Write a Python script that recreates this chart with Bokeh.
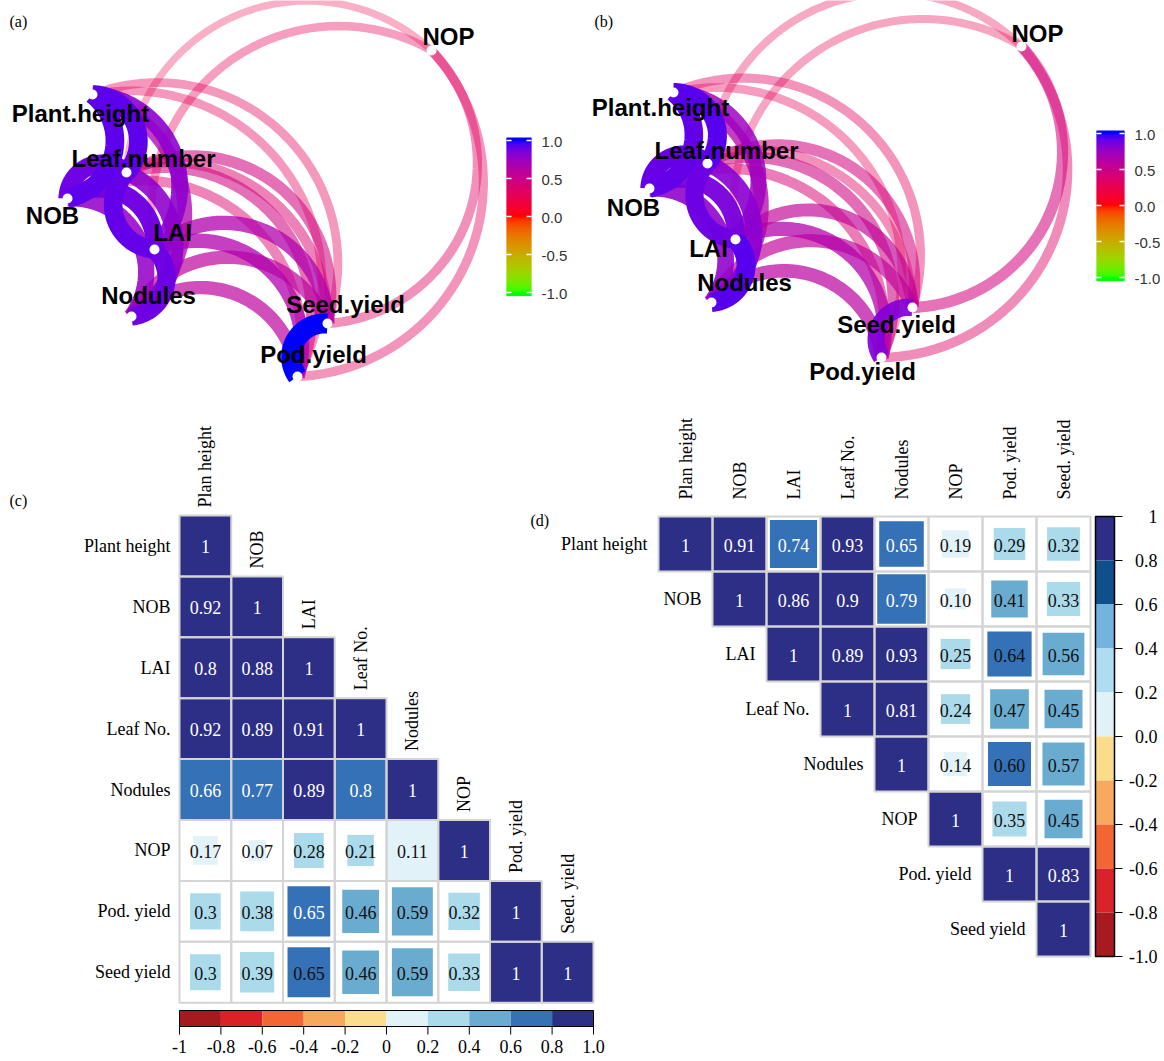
import math
from bokeh.plotting import figure
from bokeh.models import Range1d
from bokeh.core.properties import value
from bokeh.embed import file_html
from bokeh.resources import INLINE

# ---------------- data ----------------
VARIABLES = ["Plant height", "NOB", "LAI", "Leaf No.", "Nodules", "NOP", "Pod. yield", "Seed yield"]
COLUMN_LABELS = ["Plan height", "NOB", "LAI", "Leaf No.", "Nodules", "NOP", "Pod. yield", "Seed. yield"]
NETWORK_LABELS = ["Plant.height", "NOB", "LAI", "Leaf.number", "Nodules", "NOP", "Pod.yield", "Seed.yield"]

# panel (c): lower triangle, row i holds columns 0..i
C_LOWER = [
    [1],
    [0.92, 1],
    [0.8, 0.88, 1],
    [0.92, 0.89, 0.91, 1],
    [0.66, 0.77, 0.89, 0.796, 1],
    [0.17, 0.07, 0.28, 0.21, 0.11, 1],
    [0.3, 0.38, 0.652, 0.46, 0.59, 0.32, 1],
    [0.3, 0.39, 0.648, 0.46, 0.59, 0.33, 1, 1],
]
# panel (d): upper triangle, row i holds columns i..7 (printed as shown)
D_UPPER = [
    ["1", "0.91", "0.74", "0.93", "0.65", "0.19", "0.29", "0.32"],
    ["1", "0.86", "0.9", "0.79", "0.10", "0.41", "0.33"],
    ["1", "0.89", "0.93", "0.25", "0.64", "0.56"],
    ["1", "0.81", "0.24", "0.47", "0.45"],
    ["1", "0.14", "0.60", "0.57"],
    ["1", "0.35", "0.45"],
    ["1", "0.83"],
    ["1"],
]
C_BAR_TICKS = ["-1", "-0.8", "-0.6", "-0.4", "-0.2", "0", "0.2", "0.4", "0.6", "0.8", "1.0"]
D_BAR_TICKS = ["1", "0.8", "0.6", "0.4", "0.2", "0.0", "-0.2", "-0.4", "-0.6", "-0.8", "-1.0"]
NET_TICKS = ["1.0", "0.5", "0.0", "-0.5", "-1.0"]
NET_MIN_COR = 0.2

# ---------------- styles / layout ----------------
CELL_PALETTE = ["#A51A1F", "#DA2128", "#F26634", "#F8A85C", "#FBDE8C",
                "#E1F2F8", "#ABDBEB", "#6AABD0", "#3471B6", "#2D2E86"]
D_BAR_PALETTE = ["#A71A1F", "#D8232A", "#F26633", "#F8A95E", "#FBDC8A",
                 "#E1F1F8", "#AEDCF0", "#72B3E0", "#0F4F8C", "#2D2F86"]
GRID_GRAY = "#D4D4D4"
SERIF = value("Liberation Serif")
SANS = value("Liberation Sans")

# network layouts (node positions and label anchors, page pixel space)
NET_A_POS = [(92, 94), (67, 198), (154, 249), (126, 172), (131, 316), (431, 50), (297, 376), (327, 323)]
NET_A_LAB = [(80, 113), (52, 215), (172, 232), (143, 158), (148, 295), (448, 36), (313, 354), (345, 304)]
NET_B_POS = [(673, 92), (649, 188), (735, 239), (707, 163), (711, 302), (1021, 46), (881, 357), (912, 307)]
NET_B_LAB = [(660, 107), (633, 207), (708, 248), (726, 150), (744, 282), (1037, 33), (862, 371), (896, 324)]
SAGITTA = 0.32

W, H = 1160, 1060
p = figure(width=W, height=H, x_range=Range1d(0, W), y_range=Range1d(H, 0),
           output_backend="svg", toolbar_location=None, min_border=0,
           x_axis_location=None, y_axis_location=None)
p.grid.visible = False
p.outline_line_color = None
p.background_fill_color = "white"
p.border_fill_color = "white"


# ---------- colour helpers (Lab interpolation as ggplot does) ----------
def _hex(h):
    h = h.lstrip("#")
    return [int(h[k:k + 2], 16) / 255 for k in (0, 2, 4)]


def _to_lab(h):
    rgb = [c / 12.92 if c <= 0.04045 else ((c + 0.055) / 1.055) ** 2.4 for c in _hex(h)]
    X = (0.4124 * rgb[0] + 0.3576 * rgb[1] + 0.1805 * rgb[2]) / 0.95047
    Y = (0.2126 * rgb[0] + 0.7152 * rgb[1] + 0.0722 * rgb[2])
    Z = (0.0193 * rgb[0] + 0.1192 * rgb[1] + 0.9505 * rgb[2]) / 1.08883
    f = lambda t: t ** (1 / 3) if t > (6 / 29) ** 3 else t / (3 * (6 / 29) ** 2) + 4 / 29
    return (116 * f(Y) - 16, 500 * (f(X) - f(Y)), 200 * (f(Y) - f(Z)))


def _from_lab(L, a, b):
    fy = (L + 16) / 116
    fx = fy + a / 500
    fz = fy - b / 200
    finv = lambda t: t ** 3 if t > 6 / 29 else 3 * (6 / 29) ** 2 * (t - 4 / 29)
    X, Y, Z = finv(fx) * 0.95047, finv(fy), finv(fz) * 1.08883
    lin = [3.2406 * X - 1.5372 * Y - 0.4986 * Z,
           -0.9689 * X + 1.8758 * Y + 0.0415 * Z,
           0.0557 * X - 0.2040 * Y + 1.0570 * Z]
    out = []
    for c in lin:
        c = max(0.0, min(1.0, c))
        c = 12.92 * c if c <= 0.0031308 else 1.055 * c ** (1 / 2.4) - 0.055
        out.append(int(round(max(0, min(1, c)) * 255)))
    return "#%02x%02x%02x" % tuple(out)


LAB_G, LAB_R, LAB_B = _to_lab("#00FF00"), _to_lab("#FF0000"), _to_lab("#0000FF")


def net_color(r):
    if r >= 0:
        a, b, t = LAB_R, LAB_B, r
    else:
        a, b, t = LAB_G, LAB_R, r + 1
    return _from_lab(*[a[k] + (b[k] - a[k]) * t for k in range(3)])


def bin_index(r):
    return max(0, min(9, int(math.floor((r + 1) / 0.2 + 1e-9))))


# ---------------- network panels (a) and (b) ----------------
def arc_points(P, Q, s, n=48):
    dx, dy = Q[0] - P[0], Q[1] - P[1]
    c = math.hypot(dx, dy)
    ux, uy = dx / c, dy / c
    nx, ny = -uy, ux                      # right-hand side in page space
    h = s * c
    R = (c * c / 4 + h * h) / (2 * h)
    mx, my = (P[0] + Q[0]) / 2, (P[1] + Q[1]) / 2
    cx, cy = mx + nx * (h - R), my + ny * (h - R)
    a0 = math.atan2(P[1] - cy, P[0] - cx)
    a1 = math.atan2(Q[1] - cy, Q[0] - cx)
    d = (a1 - a0 + math.pi) % (2 * math.pi) - math.pi
    xs = [cx + R * math.cos(a0 + d * k / n) for k in range(n + 1)]
    ys = [cy + R * math.sin(a0 + d * k / n) for k in range(n + 1)]
    return xs, ys


def draw_network(mat, pos, lab, bar_x0, bar_x1, bar_c, bar_h):
    nv = len(VARIABLES)
    edges = []
    for i in range(nv):
        for j in range(i + 1, nv):
            r = mat[i][j]
            if abs(r) >= NET_MIN_COR:
                edges.append((abs(r), j, i, r))
    edges.sort()
    xs, ys, cols, als, wds = [], [], [], [], []
    for _, a, b, r in edges:
        ex, ey = arc_points(pos[a], pos[b], SAGITTA)
        xs.append(ex)
        ys.append(ey)
        cols.append(net_color(r))
        als.append(min(1.0, 0.1 + abs(r)))
        wds.append(4 + 16 * abs(r))
    p.multi_line(xs, ys, line_color=cols, line_alpha=als, line_width=wds, line_cap="butt")
    p.scatter([q[0] for q in pos], [q[1] for q in pos], size=10, fill_color="white", line_color=None)
    p.text([q[0] for q in lab], [q[1] for q in lab], text=NETWORK_LABELS, text_font=SANS,
           text_font_style="bold", text_font_size="24px", text_align="center",
           text_baseline="middle", text_color="black")
    # gradient colour bar, one pixel row per slice
    top = int(round(bar_c - 1.04 * bar_h))
    bot = int(round(bar_c + 1.04 * bar_h))
    rows = list(range(top, bot))
    p.quad(left=bar_x0, right=bar_x1, top=rows, bottom=[y + 1.6 for y in rows],
           fill_color=[net_color(max(-1, min(1, (bar_c - (y + 0.5)) / bar_h))) for y in rows],
           line_color=None)
    tick_vals = [float(t) for t in NET_TICKS]
    ty = [bar_c - v * bar_h for v in tick_vals]
    p.segment(x0=[bar_x0] * 5, x1=[bar_x0 + 5] * 5, y0=ty, y1=ty, line_color="white", line_width=1.5)
    p.segment(x0=[bar_x1 - 5] * 5, x1=[bar_x1] * 5, y0=ty, y1=ty, line_color="white", line_width=1.5)
    p.text([bar_x1 + 10] * 5, [t + 1 for t in ty], text=NET_TICKS, text_font=SANS,
           text_font_size="15px", text_align="left", text_baseline="middle", text_color="#333333")


def full_matrix_c():
    n = len(VARIABLES)
    m = [[0.0] * n for _ in range(n)]
    for i, row in enumerate(C_LOWER):
        for j, v in enumerate(row):
            m[i][j] = m[j][i] = float(v)
    return m


def full_matrix_d():
    n = len(VARIABLES)
    m = [[0.0] * n for _ in range(n)]
    for i, row in enumerate(D_UPPER):
        for k, s in enumerate(row):
            j = i + k
            m[i][j] = m[j][i] = float(s)
    return m


draw_network(full_matrix_c(), NET_A_POS, NET_A_LAB, 506, 531, 216, 76)
draw_network(full_matrix_d(), NET_B_POS, NET_B_LAB, 1096, 1124, 205, 72)


# ---------------- correlation matrices (c) and (d) ----------------
def draw_cells(cells, x0, cw, y0, rh, full_at, full_extra, font_size):
    bg_l, bg_r, bg_t, bg_b = [], [], [], []
    fl, fr, ft, fb, fc = [], [], [], [], []
    tx, ty, tt, tc = [], [], [], []
    for (i, j, r, txt) in cells:
        L, Rr = x0 + j * cw, x0 + (j + 1) * cw
        T, B = y0 + i * rh, y0 + (i + 1) * rh
        bg_l.append(L); bg_r.append(Rr); bg_t.append(T); bg_b.append(B)
        cx, cy = (L + Rr) / 2, (T + B) / 2
        if abs(r) >= full_at or (i, j) in full_extra:
            f = 1.0
        else:
            f = 0.1 + 0.9 * math.sqrt(abs(r))
        hw, hh = cw * f / 2, rh * f / 2
        fl.append(cx - hw); fr.append(cx + hw); ft.append(cy - hh); fb.append(cy + hh)
        fc.append(CELL_PALETTE[bin_index(r)])
        tx.append(cx); ty.append(cy + 1); tt.append(txt)
        tc.append("white" if r >= 0.65 else "#111111")
    p.quad(left=bg_l, right=bg_r, top=bg_t, bottom=bg_b, fill_color="white", line_color=None)
    p.quad(left=fl, right=fr, top=ft, bottom=fb, fill_color=fc, line_color=None)
    p.quad(left=bg_l, right=bg_r, top=bg_t, bottom=bg_b, fill_color=None,
           line_color=GRID_GRAY, line_width=2)
    p.text(tx, ty, text=tt, text_font=SERIF, text_font_size=font_size, text_align="center",
           text_baseline="middle", text_color=tc)


# panel (c)
CX0, CCW, CY0, CRH = 179, 51.75, 515, 60.9
cells_c = []
for i, row in enumerate(C_LOWER):
    for j, v in enumerate(row):
        cells_c.append((i, j, float(v), "%g" % round(v, 2)))
draw_cells(cells_c, CX0, CCW, CY0, CRH, 0.66, [(5, 4)], "18px")
p.text([CX0 + (j + 0.5) * CCW for j in range(8)], [CY0 + j * CRH - 8 for j in range(8)],
       text=COLUMN_LABELS, angle=math.pi / 2, text_font=SERIF, text_font_size="18px",
       text_align="left", text_baseline="middle", text_color="black")
p.text([170] * 8, [CY0 + (i + 0.5) * CRH for i in range(8)], text=VARIABLES, text_font=SERIF,
       text_font_size="18px", text_align="right", text_baseline="middle", text_color="black")
# colour bar (c)
CB_T, CB_B = 1010, 1026
edges_c = [CX0 + k * (8 * CCW) / 10 for k in range(11)]
p.quad(left=edges_c[:-1], right=edges_c[1:], top=CB_T, bottom=CB_B, fill_color=CELL_PALETTE, line_color=None)
p.quad(left=edges_c[0], right=edges_c[-1], top=CB_T, bottom=CB_B, fill_color=None, line_color="black", line_width=1)
p.segment(x0=edges_c, x1=edges_c, y0=[CB_B] * 11, y1=[CB_B + 8] * 11, line_color="black", line_width=1)
p.text(edges_c, [1046] * 11, text=C_BAR_TICKS, text_font=SERIF, text_font_size="18px",
       text_align="center", text_baseline="middle", text_color="black")

# panel (d)
DX0, DCW, DY0, DRH = 658, 54, 516, 55
cells_d = []
for i, row in enumerate(D_UPPER):
    for k, s in enumerate(row):
        cells_d.append((i, i + k, float(s), s))
draw_cells(cells_d, DX0, DCW, DY0, DRH, 0.8, [], "18px")
p.text([DX0 + (j + 0.5) * DCW for j in range(8)], [DY0 - 17] * 8,
       text=COLUMN_LABELS, angle=math.pi / 2, text_font=SERIF, text_font_size="18px",
       text_align="left", text_baseline="middle", text_color="black")
p.text([DX0 + i * DCW - 11 for i in range(8)], [DY0 + (i + 0.5) * DRH for i in range(8)],
       text=VARIABLES, text_font=SERIF, text_font_size="18px", text_align="right",
       text_baseline="middle", text_color="black")
# colour bar (d)
DB_L, DB_R = 1095, 1114
DB_T, DB_H = DY0, 8 * DRH
edges_d = [DB_T + k * DB_H / 10 for k in range(11)]
p.quad(left=DB_L, right=DB_R, top=edges_d[:-1], bottom=edges_d[1:],
       fill_color=list(reversed(D_BAR_PALETTE)), line_color=None)
p.quad(left=DB_L, right=DB_R, top=edges_d[0], bottom=edges_d[-1], fill_color=None,
       line_color="black", line_width=1.5)
p.segment(x0=[DB_R] * 11, x1=[DB_R + 8] * 11, y0=edges_d, y1=edges_d, line_color="black", line_width=1)
p.text([1157] * 11, edges_d, text=D_BAR_TICKS, text_font=SERIF, text_font_size="18px",
       text_align="right", text_baseline="middle", text_color="black")

# panel tags
p.text([9, 594, 9, 530], [21, 21, 500, 520], text=["(a)", "(b)", "(c)", "(d)"], text_font=SERIF,
       text_font_size="16px", text_align="left", text_baseline="middle", text_color="black")

open("out.html", "w").write(file_html(p, INLINE))
